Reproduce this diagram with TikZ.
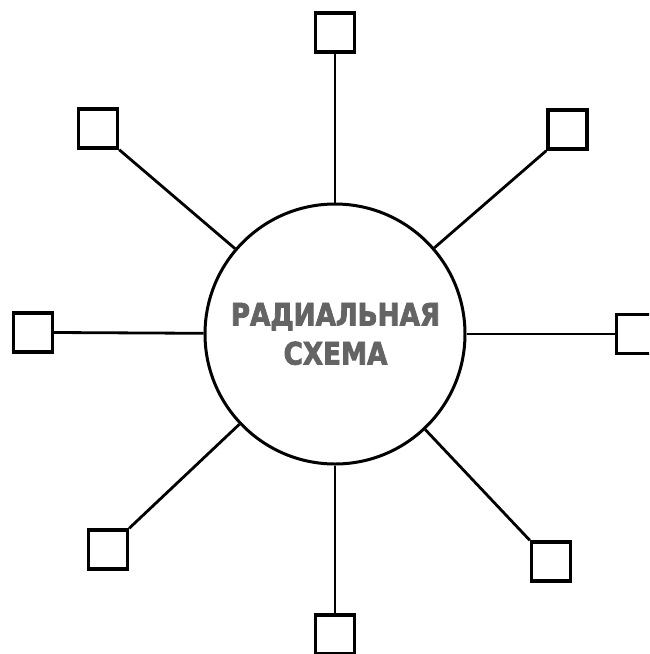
\documentclass[tikz,border=0pt]{standalone}
\usepackage{fontspec}
\newfontfamily\schemefont{DejaVu Sans Condensed Bold}[FakeBold=2.5, FakeStretch=0.94]
\usepackage{xcolor}
\usetikzlibrary{positioning}
\definecolor{textgray}{RGB}{100,100,100}

\begin{document}
\begin{tikzpicture}[
    x=1pt, y=-1pt,
    hub/.style={circle, draw, line width=3pt, minimum size=260pt,
                inner sep=0pt},
    leaf/.style={rectangle, draw, line width=3.4pt, minimum size=39pt,
                 inner sep=0pt, fill=white},
    spoke/.style={line width=2.8pt},
    title/.style={align=center, text=textgray,
                  font=\schemefont\fontsize{31}{39}\selectfont},
]
\clip (0,0) rectangle (649,654);
\fill[white] (0,0) rectangle (649,654);

% Center
\node[hub] (hub) at (335,334) {};
\node[title] (name) at (335.5,334) {РАДИАЛЬНАЯ\\СХЕМА};

% Boxes
\node[leaf] (ntop)   at (335,32.5)  {};
\node[leaf] (nleft)  at (33,332.5)  {};
\node[leaf] (nright) at (636,334)   {};
\node[leaf] (nbot)   at (335,634.5) {};
\node[leaf] (ntl)    at (98,128.5)  {};
\node[leaf] (ntr)    at (567.5,129.5) {};
\node[leaf] (nbl)    at (108,549.5) {};
\node[leaf] (nbr)    at (551,561.5) {};

% Spokes
\draw[spoke] (hub) -- (ntop.south);
\draw[spoke] (hub) -- (nleft.east);
\draw[spoke] (hub) -- (nright.west);
\draw[spoke] (hub) -- (nbot.north);
\draw[spoke] (hub) -- (ntl.south east);
\draw[spoke] (hub) -- (ntr.south west);
\draw[spoke] (hub) -- (nbl.north east);
\draw[spoke] (hub) -- (nbr.north west);

\end{tikzpicture}
\end{document}
